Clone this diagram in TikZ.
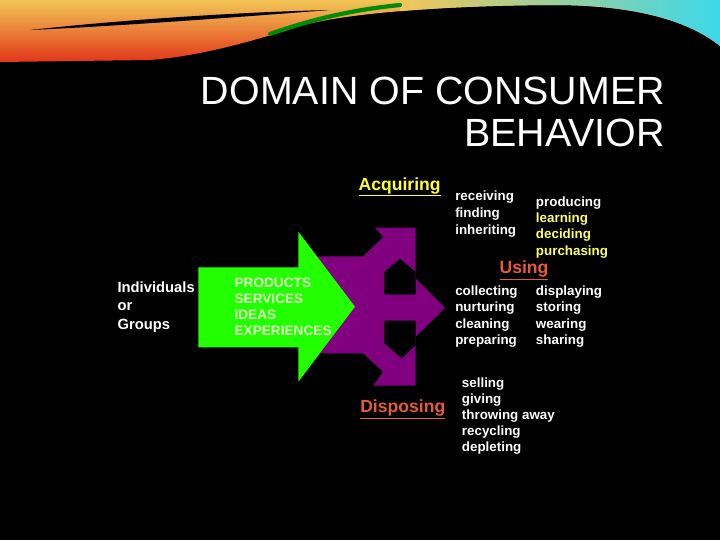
\documentclass[tikz,border=0pt]{standalone}
\usepackage{fontspec}
\setmainfont{Liberation Sans}
\usepackage{xcolor}
\usepackage{tikz}
\usetikzlibrary{positioning,calc}
\definecolor{arrowgreen}{HTML}{22FF00}
\definecolor{arrowpurple}{HTML}{800080}
\definecolor{acqyellow}{HTML}{FFFF33}
\definecolor{listyellow}{HTML}{FFFF66}
\definecolor{headred}{HTML}{E65A3C}
\definecolor{palegreen}{HTML}{DDFFC4}
\definecolor{swoosha}{HTML}{E2361A}
\definecolor{swooshb}{HTML}{F2C656}
\definecolor{swooshpale}{HTML}{EEF2D8}
\definecolor{swooshc}{HTML}{3CD8EA}
\tikzset{
  % --- slide texts ---
  slidetitle/.style={anchor=base east, inner sep=0pt, text=white,
                     font=\fontsize{28}{33}\selectfont},
  stagehead/.style={anchor=base west, inner sep=0pt,
                    font=\fontsize{12.5}{15}\selectfont\bfseries},
  actlist/.style={anchor=north west, inner sep=0pt, align=left, text=white,
                  font=\fontsize{9.5}{11.6}\selectfont\bfseries},
  % --- shapes ---
  bigarrow/.style={fill=arrowgreen, draw=none},
  fork/.style={fill=arrowpurple, draw=none},
  notch/.style={fill=black, draw=none},
}

\begin{document}
\begin{tikzpicture}[x=0.025cm, y=-0.025cm]
  % --- slide background and top swoosh ---
  \fill[black] (0,0) rectangle (720,540);
  \useasboundingbox (0,0) rectangle (720,540);
  \begin{scope}
    \clip (0,0) -- (720,0) -- (720,46) .. controls (690,22) and (640,6) .. (560,5)
      .. controls (460,5) and (350,12) .. (300,26)
      .. controls (250,42) and (200,56) .. (150,60) -- (0,62) -- cycle;
    \shade[top color=swooshb, bottom color=swoosha] (0,0) rectangle (720,62);
    \shade[left color=swooshb, middle color=swooshpale, right color=swooshc]
      (400,0) rectangle (720,62);
  \end{scope}
  \fill[black] (30,30) .. controls (120,20) and (240,12) .. (330,10)
    .. controls (240,17) and (120,26) .. (30,30) -- cycle;
  \draw[green!55!black, line width=3pt, line cap=round]
    (270,34) .. controls (310,20) and (350,10) .. (400,5);

  % --- title ---
  \node[slidetitle] (title1) at (665,104) {DOMAIN OF CONSUMER};
  \node[slidetitle] (title2) at (665,146) {BEHAVIOR};

  % --- purple fork (behind the green arrow) ---
  \fill[fork] (312,256.3) -- (363.3,256.3) -- (383.3,237) -- (375,227.7)
    -- (415.7,227.7) -- (415.7,278.7) -- (445,308) -- (415.7,336.7)
    -- (415.7,385.7) -- (373,385.7) -- (383.3,372) -- (363.3,353.3)
    -- (312,353.3) -- cycle;
  \fill[notch] (384.3,294.7) -- (384.3,272) -- (400,258.7) -- (415.7,272)
    -- (415.7,294.7) -- cycle;
  \fill[notch] (384.3,320.7) -- (415.7,320.7) -- (415.7,345) -- (401.7,358.3)
    -- (384.3,343.3) -- cycle;

  % --- green arrow ---
  \fill[bigarrow] (198.3,267.3) -- (298.3,267.3) -- (298.3,231.7) -- (355,306.7)
    -- (298.3,381.7) -- (298.3,347.3) -- (198.3,347.3) -- cycle;
  \node[actlist, text=palegreen, font=\fontsize{9.7}{11.45}\selectfont\bfseries]
    (offer) at (234.3,277.3) {PRODUCTS\\SERVICES\\IDEAS\\EXPERIENCES};

  % --- who ---
  \node[actlist, font=\fontsize{10.5}{13}\selectfont\bfseries]
    (who) at (117.3,281.7) {Individuals\\or\\Groups};

  % --- stage headings ---
  \node[stagehead, text=acqyellow] (acq) at (358.3,190) {\underline{Acquiring}};
  \node[stagehead, text=headred] (use) at (499.3,273.3) {\underline{Using}};
  \node[stagehead, text=headred] (disp) at (360,412.3) {\underline{Disposing}};

  % --- activity lists ---
  \node[actlist, font=\fontsize{9.5}{11.9}\selectfont\bfseries]
    (acqa) at (455,190.7) {receiving\\finding\\inheriting};
  \node[actlist] (acqb) at (535.7,196.2)
    {producing\\\textcolor{listyellow}{learning}\\\textcolor{listyellow}{deciding}\\\textcolor{listyellow}{purchasing}};
  \node[actlist] (usea) at (455,285.6) {collecting\\nurturing\\cleaning\\preparing};
  \node[actlist] (useb) at (535.7,285.6) {displaying\\storing\\wearing\\sharing};
  \node[actlist, font=\fontsize{9.5}{11.45}\selectfont\bfseries]
    (dispa) at (461.7,377.2) {selling\\giving\\throwing away\\recycling\\depleting};
\end{tikzpicture}
\end{document}
